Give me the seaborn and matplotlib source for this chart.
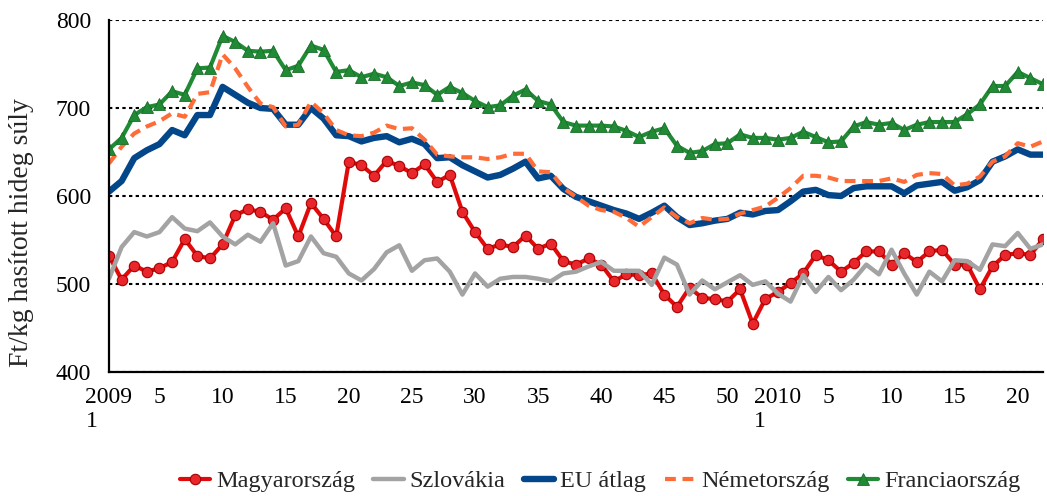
import matplotlib
matplotlib.use("Agg")
import matplotlib.pyplot as plt
import seaborn as sns
import pandas as pd
from matplotlib.lines import Line2D

# ---- data (weekly prices, Ft/kg) ----
years = [2009] * 53 + [2010] * 22
weeks = list(range(1, 54)) + list(range(1, 23))

magyarorszag = [532, 505, 521, 514, 518, 525, 551, 532, 529, 545, 578, 585, 582, 573, 586, 554, 592, 574, 554, 639,
                635, 623, 640, 634, 626, 636, 616, 624, 582, 559, 540, 545, 542, 555, 540, 546, 526, 522, 529, 522,
                503, 511, 510, 512, 488, 474, 496, 484, 483, 480, 494, 455, 483, 491, 501, 512, 533, 527, 514, 524,
                537, 537, 522, 535, 525, 537, 539, 522, 522, 494, 520, 533, 535, 533, 551]
szlovakia = [506, 542, 559, 554, 559, 576, 563, 560, 570, 554, 545, 556, 548, 569, 521, 526, 554, 535, 531, 512,
             504, 517, 536, 544, 515, 527, 529, 514, 488, 512, 497, 506, 508, 508, 506, 503, 512, 514, 520, 525,
             515, 515, 515, 499, 530, 522, 488, 504, 494, 502, 510, 499, 503, 489, 480, 510, 491, 508, 493, 505,
             522, 511, 539, 512, 488, 514, 503, 527, 526, 516, 545, 543, 558, 540, 545]
eu_atlag = [605, 617, 643, 652, 659, 675, 669, 692, 692, 724, 715, 706, 700, 699, 681, 681, 700, 688, 669, 668,
            662, 666, 668, 661, 665, 659, 643, 644, 635, 628, 621, 624, 631, 639, 620, 623, 608, 599, 594, 589,
            584, 580, 574, 581, 589, 576, 567, 569, 572, 574, 581, 579, 583, 584, 594, 605, 607, 601, 600, 609,
            611, 611, 611, 603, 612, 614, 616, 606, 610, 618, 639, 645, 653, 647, 647]
nemetorszag = [637, 656, 671, 679, 685, 694, 690, 716, 718, 761, 745, 724, 705, 701, 679, 681, 707, 694, 675, 669,
               668, 672, 680, 676, 677, 664, 647, 645, 644, 644, 642, 644, 648, 648, 628, 627, 609, 599, 589, 584,
               582, 575, 565, 576, 587, 576, 569, 575, 573, 574, 580, 584, 588, 598, 609, 623, 623, 621, 617, 617,
               617, 617, 620, 616, 624, 626, 625, 612, 614, 622, 639, 645, 660, 656, 662]
franciaorszag = [653, 666, 692, 701, 704, 719, 715, 745, 746, 782, 775, 765, 764, 765, 743, 748, 771, 766, 741, 743,
                 735, 739, 735, 725, 729, 726, 715, 724, 717, 708, 701, 703, 714, 721, 708, 704, 684, 680, 680, 680,
                 679, 674, 667, 673, 677, 657, 649, 651, 659, 660, 670, 666, 666, 664, 666, 673, 667, 661, 662, 679,
                 684, 681, 683, 675, 681, 684, 684, 684, 693, 704, 725, 725, 741, 734, 727]

series_names = ["Magyarország", "Szlovákia", "EU átlag", "Németország", "Franciaország"]
y_label = "Ft/kg hasított hideg súly"

# ---- build the tick labels ----
tick_labels = []
for i, (yr, wk) in enumerate(zip(years, weeks)):
    if wk == 1:
        tick_labels.append(f"{yr}\n{wk}")
    elif wk % 5 == 0:
        tick_labels.append(str(wk))
    else:
        tick_labels.append("")

pos = list(range(len(weeks)))
df = pd.DataFrame({"pos": pos,
                   series_names[0]: magyarorszag,
                   series_names[1]: szlovakia,
                   series_names[2]: eu_atlag,
                   series_names[3]: nemetorszag,
                   series_names[4]: franciaorszag})

sns.set_style("white")
plt.rcParams["font.family"] = ["Liberation Serif", "DejaVu Serif"]

fig = plt.figure(figsize=(10.47, 4.96), dpi=100)
ax = fig.add_axes([109 / 1047, 1 - 372 / 496, (1043 - 109) / 1047, 352 / 496])

styles = {
    "Magyarország": dict(color="#E10A0A", lw=3.0, marker="o", markersize=7.5,
                         markerfacecolor="#E8262B", markeredgecolor="#A80000", markeredgewidth=0.8),
    "Szlovákia": dict(color="#A3A3A3", lw=3.2),
    "EU átlag": dict(color="#03468A", lw=4.6),
    "Németország": dict(color="#FF6C37", lw=3.0, linestyle=(0, (2.6, 1.6))),
    "Franciaország": dict(color="#218A35", lw=3.0, marker="^", markersize=9,
                          markerfacecolor="#218A35", markeredgecolor="#1A6E2A", markeredgewidth=0.6),
}

for z, name in enumerate(series_names):
    sns.lineplot(data=df, x="pos", y=name, ax=ax, legend=False, zorder=3 + z, **styles[name])

ax.set_xlim(0, len(pos) - 1)
ax.set_ylim(400, 800)
ax.set_yticks([400, 500, 600, 700, 800])
ax.set_xticks(pos)
ax.set_xticklabels(tick_labels, ha="center")
for lab in ax.get_xticklabels():
    lab.set_multialignment("left")
ax.tick_params(axis="x", direction="out", length=8, width=1.5, pad=3, labelsize=17, colors="black")
ax.tick_params(axis="y", direction="out", length=8, width=1.5, pad=5, labelsize=17, colors="black")

ax.yaxis.grid(True, color="black", lw=1.5, linestyle=(0, (1.6, 1.6)))
ax.xaxis.grid(False)
ax.set_axisbelow(True)
for s in ["top", "right"]:
    ax.spines[s].set_visible(False)
for s in ["left", "bottom"]:
    ax.spines[s].set_color("black")
    ax.spines[s].set_linewidth(1.6)
    ax.spines[s].set_zorder(10)

ax.set_xlabel("")
ax.set_ylabel(y_label, fontsize=20)
ax.yaxis.label.set_verticalalignment("center")
ax.yaxis.set_label_coords((22 - 109) / 934, (372 - 233) / 352)

handles = [Line2D([], [], **styles[n]) for n in series_names]
fig.legend(handles, series_names, loc="center", bbox_to_anchor=(600 / 1047, 1 - 481 / 496), ncol=5,
           frameon=False, fontsize=17.5, handlelength=1.25, handletextpad=0.25, columnspacing=0.75)

fig.savefig("out.png", dpi=100)
